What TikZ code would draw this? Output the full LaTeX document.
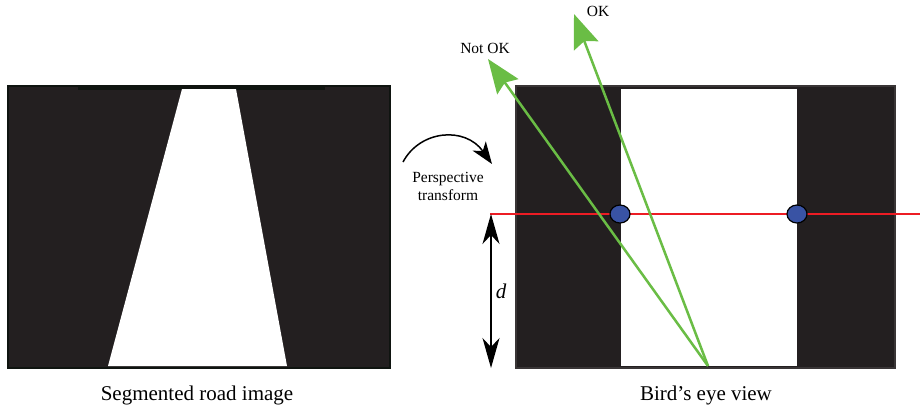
\documentclass[tikz,border=0pt]{standalone}
\usepackage{fontspec}
\setmainfont{Liberation Serif}
\usetikzlibrary{arrows.meta,shapes.geometric}
\definecolor{asphalt}{HTML}{231F20}
\definecolor{edge}{HTML}{0F1410}
\definecolor{raygreen}{HTML}{6ABD45}
\definecolor{horizon}{HTML}{ED1C24}
\definecolor{marker}{HTML}{3953A4}

\begin{document}
\begin{tikzpicture}[x=1pt,y=-1pt,
    caption/.style={font=\fontsize{21}{25}\selectfont},
    note/.style={font=\fontsize{15.5}{18}\selectfont,align=center},
    ray/.style={draw=raygreen,line width=2.5pt,-{Stealth[length=34pt,width=26pt,inset=5pt]}},
    dot/.style={ellipse,draw=black,line width=1.2pt,fill=marker,minimum width=20pt,minimum height=18pt,inner sep=0pt}]
\useasboundingbox (0,0) rectangle (920,413);

% segmented image
\filldraw[fill=asphalt,draw=edge,line width=2pt] (8,86) rectangle (390,368);
\draw[edge,line width=3pt] (78,88) -- (325,88);
\fill[white] (182,89) -- (236,89) -- (287,366) -- (108,366) -- cycle;
\node [caption] (left-cap) at (197,395) {Segmented road image};

% bird's eye view
\filldraw[fill=asphalt,draw=asphalt!90!white,line width=1.5pt] (516,86) rectangle (895,368);
\filldraw[fill=white,draw=asphalt,line width=1pt] (620,88) rectangle (797,366);
\node [caption] (right-cap) at (706,395) {Bird’s eye view};

% perspective transform arrow
\coordinate (bend-start) at (403,162);
\coordinate (bend-end) at (492,164);
\draw[black,line width=1.5pt,-{Stealth[length=22pt,width=16pt,inset=6pt]}]
    (bend-start) .. controls (420,130) and (465,126) .. (bend-end);
\node [note] (transform) at (448,186) {Perspective\\transform};

% horizon line with lane markers
\coordinate (horizon-left) at (490,214);
\coordinate (horizon-right) at (920,214);
\draw[horizon,line width=2.6pt] (horizon-left) -- (horizon-right);
\node [dot] (left-mark) at (620,214) {};
\node [dot] (right-mark) at (797,214) {};

% distance d
\coordinate (d-top) at (491,214);
\coordinate (d-bottom) at (491,368);
\draw[black,line width=1.3pt,{Stealth[length=30pt,width=17pt,inset=9pt]}-{Stealth[length=30pt,width=17pt,inset=9pt]}]
    (d-top) -- node [right=1pt,font=\fontsize{21}{25}\selectfont\itshape] (d-label) {d} (d-bottom);

% candidate directions
\coordinate (base) at (708,366);
\coordinate (not-ok-tip) at (488,59);
\coordinate (ok-tip) at (574,14);
\draw[ray] (base) -- (not-ok-tip);
\draw[ray] (base) -- (ok-tip);
\node [note] (not-ok) at (485,48) {Not OK};
\node [note] (ok) at (598,11) {OK};
\end{tikzpicture}
\end{document}
